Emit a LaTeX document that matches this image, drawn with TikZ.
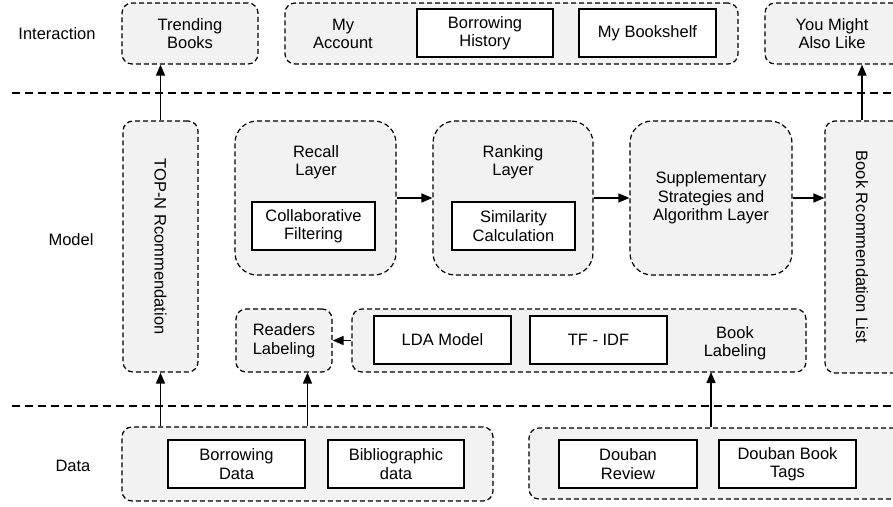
\documentclass[tikz,border=0pt]{standalone}
\usepackage{fontspec}
\setmainfont{Liberation Sans}
\usetikzlibrary{arrows.meta}
\definecolor{boxgray}{RGB}{242,242,242}
\tikzset{
  grpbox/.style={draw, fill=boxgray, line width=1.2pt, dash pattern=on 5pt off 3pt,
    rounded corners=10pt, inner sep=0pt, align=center},
  layerbox/.style={grpbox, rounded corners=22pt, minimum width=161pt, minimum height=154pt},
  itembox/.style={draw, fill=white, line width=1.5pt, inner sep=0pt, align=center,
    minimum width=137pt, minimum height=48pt},
  flow/.style={line width=1.5pt, -{Triangle[length=11pt,width=9pt]}},
  sepline/.style={line width=2pt, dash pattern=on 8pt off 5pt},
}
\begin{document}
\begin{tikzpicture}[x=1pt,y=-1pt,font=\fontsize{16.5}{18.5}\selectfont]
  \useasboundingbox (0,0) rectangle (893,506);
  \clip (0,0) rectangle (893,506);
  % Layer names
  \node (lint) at (57,34) {Interaction};
  \node (lmod) at (71,240) {Model};
  \node (ldat) at (73,466) {Data};
  % Layer separators
  \draw[sepline] (12,93) -- (893,93);
  \draw[sepline] (12,406) -- (893,406);
  % Interaction layer
  \node[grpbox, minimum width=136pt, minimum height=61pt] (trend) at (190,33.5) {Trending\\Books};
  \node[grpbox, minimum width=453pt, minimum height=61pt] (acct) at (511.5,33.5) {};
  \node[align=center] (acctname) at (343,34) {My\\Account};
  \node[itembox, minimum width=136pt] (hist) at (485,33) {Borrowing\\History};
  \node[itembox] (shelf) at (647.5,33) {My Bookshelf};
  \node[grpbox, minimum width=170pt, minimum height=61pt] (like) at (850,33.5) {};
  \node[align=center] (liketext) at (832,33.5) {You Might\\Also Like};
  % Model layer
  \node[grpbox, minimum width=75pt, minimum height=251pt] (topn) at (160.5,246.5) {};
  \node[rotate=-90] (topntext) at (topn.center) {TOP-N Rcommendation};
  \node[grpbox, minimum width=110pt, minimum height=252pt] (booklist) at (880,247) {};
  \node[rotate=-90] (booklisttext) at (862,247) {Book Rcommendation List};
  \node[layerbox] (recall) at (315.5,198) {};
  \node[align=center] (recalltext) at (316,162) {Recall\\Layer};
  \node[itembox, minimum width=123pt] (cf) at (313.5,226) {Collaborative\\Filtering};
  \node[layerbox, minimum width=160pt] (ranking) at (513,198) {};
  \node[align=center] (rankingtext) at (513,162) {Ranking\\Layer};
  \node[itembox, minimum width=123pt] (simcalc) at (513.5,226) {Similarity\\Calculation};
  \node[layerbox, minimum width=162pt] (supp) at (711,198) {Supplementary\\Strategies and\\Algorithm Layer};
  \node[grpbox, minimum width=96pt, minimum height=63pt] (readers) at (284,340.5) {Readers\\Labeling};
  \node[grpbox, minimum width=454pt, minimum height=63pt] (booklab) at (579,340.5) {};
  \node[itembox] (lda) at (442.5,340) {LDA Model};
  \node[itembox] (tfidf) at (598.5,340) {TF - IDF};
  \node[align=center] (booklabtext) at (735,343) {Book\\Labeling};
  \coordinate (booklabin) at (711,372);
  % Data layer
  \node[grpbox, minimum width=371pt, minimum height=74pt] (datal) at (307.5,464) {};
  \node[itembox] (borrow) at (236.5,464) {Borrowing\\Data};
  \node[itembox, minimum width=136pt] (biblio) at (396,464) {Bibliographic\\data};
  \node[grpbox, minimum width=431pt, minimum height=71pt] (datar) at (744.5,463.5) {};
  \node[itembox, minimum width=138pt] (review) at (628,464) {Douban\\Review};
  \node[itembox] (tags) at (787.5,464) {Douban Book\\Tags};
  % Connections
  \draw[flow] (topn.north) -- (topn.north |- trend.south);
  \draw[flow] (booklisttext.center |- booklist.north) -- (booklisttext.center |- like.south);
  \draw[flow] (recall.east) -- (ranking.west);
  \draw[flow] (ranking.east) -- (supp.west);
  \draw[flow] (supp.east) -- (supp.east -| booklist.west);
  \draw[flow] (booklab.west) -- (readers.east);
  \draw[flow] (topn.south |- datal.north) -- (topn.south);
  \draw[flow] (datal.north) -- (datal.north |- readers.south);
  \draw[flow] (booklabin |- datar.north) -- (booklabin);
\end{tikzpicture}
\end{document}
